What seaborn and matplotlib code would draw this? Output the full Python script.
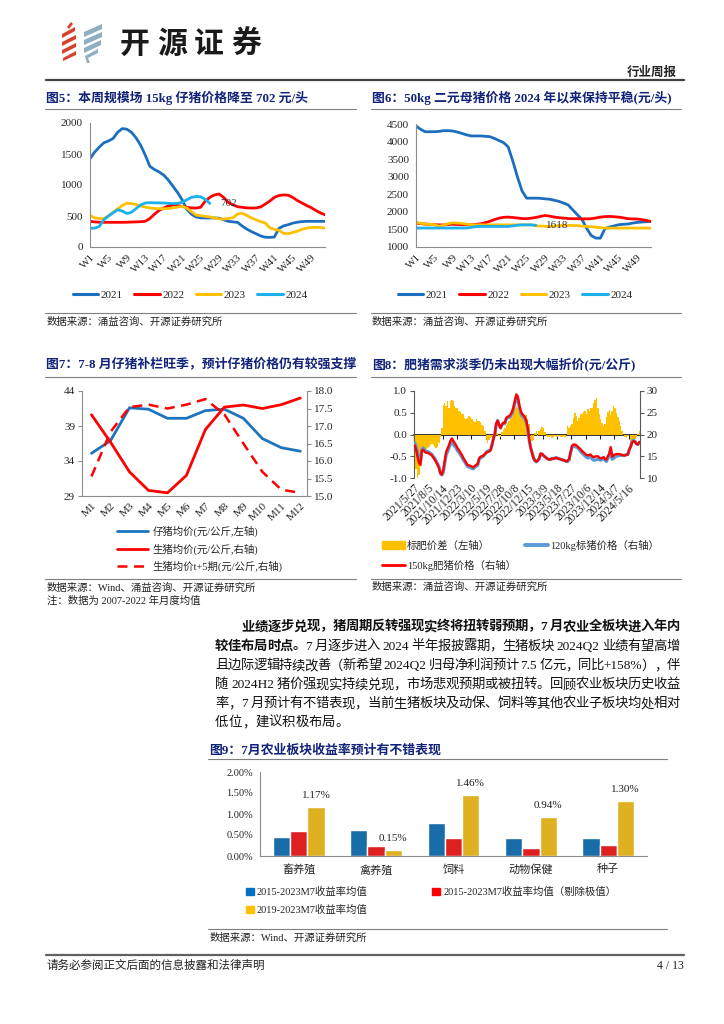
import numpy as np
import pandas as pd
import matplotlib
matplotlib.use('Agg')
import matplotlib.pyplot as plt
import seaborn as sns
from matplotlib.lines import Line2D
from matplotlib.patches import Patch, Polygon

# ---------------- data ----------------
week_labels = ['W%d' % i for i in range(1, 53)]
years = ['2021', '2022', '2023', '2024']
year_colors = ['#1C6FBF', '#FF0000', '#FFC000', '#1CB0EC']

# fig5: 15kg piglet price (yuan/head)
piglet_2021 = [1425, 1530, 1610, 1680, 1710, 1750, 1850, 1910, 1900, 1850,
               1760, 1640, 1480, 1300, 1250, 1210, 1160, 1080, 980, 880,
               760, 610, 530, 485, 470, 468, 468, 468, 465, 440,
               415, 405, 398, 340, 290, 250, 215, 180, 158, 155,
               160, 300, 340, 360, 385, 400, 410, 414, 414, 414, 414, 414]
piglet_2022 = [415, 405, 400, 398, 398, 398, 398, 398, 400, 402,
               405, 408, 415, 460, 530, 590, 630, 660, 680, 670,
               655, 640, 630, 628, 640, 740, 800, 840, 855, 800,
               720, 680, 650, 640, 632, 628, 630, 645, 690, 740,
               800, 830, 840, 835, 800, 750, 710, 670, 635, 590, 550, 520]
piglet_2023 = [510, 470, 460, 458, 500, 560, 615, 670, 705, 700,
               685, 660, 645, 630, 620, 618, 618, 620, 630, 645,
               655, 630, 570, 515, 505, 495, 485, 470, 455, 450,
               460, 470, 530, 545, 510, 470, 440, 410, 390, 310,
               285, 270, 220, 215, 235, 255, 285, 305, 315, 317, 315, 305]
piglet_2024 = [300, 305, 330, 440, 500, 550, 600, 580, 540, 560,
               620, 680, 710, 715, 712, 712, 710, 705, 700, 705,
               720, 760, 800, 815, 810, 770, 702]

# fig6: 50kg sow price (yuan/head)
sow_2021 = [4440, 4350, 4280, 4280, 4280, 4290, 4310, 4310, 4300, 4270,
            4230, 4190, 4160, 4160, 4160, 4150, 4140, 4090, 4030, 3970,
            3850, 3450, 3000, 2600, 2390, 2390, 2390, 2385, 2370, 2360,
            2330, 2300, 2250, 2200, 2060, 1920, 1790, 1540, 1330, 1255,
            1250, 1520, 1570, 1600, 1635, 1645, 1655, 1680, 1700, 1710, 1720, 1728]
sow_2022 = [1680, 1665, 1652, 1645, 1635, 1630, 1625, 1640, 1650, 1640,
            1635, 1635, 1635, 1645, 1660, 1690, 1730, 1780, 1820, 1845,
            1850, 1840, 1825, 1810, 1805, 1820, 1840, 1870, 1895, 1880,
            1850, 1835, 1823, 1810, 1805, 1805, 1800, 1800, 1805, 1825,
            1850, 1865, 1870, 1860, 1850, 1830, 1805, 1800, 1795, 1780, 1757, 1725]
sow_2023 = [1700, 1675, 1655, 1645, 1635, 1590, 1620, 1665, 1690, 1680,
            1670, 1650, 1635, 1630, 1630, 1630, 1630, 1630, 1630, 1630,
            1630, 1630, 1630, 1630, 1630, 1630, 1605, 1595, 1590, 1585,
            1595, 1610, 1615, 1615, 1612, 1608, 1595, 1585, 1575, 1565,
            1550, 1540, 1538, 1538, 1538, 1538, 1538, 1538, 1538, 1538, 1538, 1538]
sow_2024 = [1540, 1540, 1540, 1540, 1540, 1540, 1540, 1540, 1540, 1540,
            1540, 1540, 1560, 1580, 1585, 1585, 1585, 1585, 1585, 1585,
            1585, 1600, 1620, 1630, 1630, 1630, 1618]

# fig7: monthly averages 2007-2022
month_labels = ['M%d' % i for i in range(1, 13)]
piglet_avg = [35.1, 36.9, 41.6, 41.4, 40.1, 40.1, 41.2, 41.4, 40.1, 37.2, 35.9, 35.4]
hog_avg = [17.32, 16.54, 15.69, 15.16, 15.09, 15.59, 16.90, 17.54, 17.60, 17.50, 17.61, 17.80]
hog_avg_t5 = [15.56, 16.83, 17.54, 17.61, 17.50, 17.61, 17.77, 17.33, 16.50, 15.69, 15.18, 15.09]

# fig8: weekly fat / standard hog prices
date_labels = ['2021/5/27', '2021/8/5', '2021/10/14', '2021/12/23', '2022/3/10',
               '2022/5/19', '2022/7/28', '2022/10/8', '2022/12/15', '2023/3/9',
               '2023/5/18', '2023/7/27', '2023/10/6', '2023/12/14', '2024/3/7', '2024/5/16']
fat_150 = [17.5, 16.5, 14.8, 13.5, 13.0, 16.3, 16.5, 16.0, 15.8, 15.8,
           15.6, 15.4, 15.2, 14.7, 14.2, 13.6, 13.0, 12.3, 11.0, 10.8,
           12.0, 14.0, 16.0, 16.8, 17.6, 18.6, 19.1, 18.5, 18.0, 17.5,
           16.8, 16.4, 15.8, 15.3, 14.6, 14.1, 13.5, 13.0, 12.9, 12.8,
           12.6, 12.4, 12.8, 13.0, 13.2, 14.5, 14.9, 15.0, 15.2, 15.5,
           15.8, 16.0, 16.1, 16.4, 17.5, 19.0, 20.2, 22.5, 23.2, 22.2,
           21.5, 22.3, 22.7, 22.7, 23.8, 24.1, 24.2, 24.6, 25.2, 26.3,
           27.8, 29.2, 28.8, 27.0, 25.5, 24.8, 24.4, 24.0, 23.2, 21.6,
           19.0, 17.0, 15.8, 14.6, 14.0, 13.8, 14.0, 14.5, 15.6, 15.6,
           15.2, 14.9, 14.6, 14.4, 14.2, 14.3, 14.5, 14.4, 14.6, 14.6,
           14.5, 14.4, 14.3, 14.2, 14.1, 14.0, 13.8, 14.0, 14.4, 16.0,
           17.4, 17.7, 17.7, 17.5, 17.2, 16.9, 16.6, 16.2, 15.9, 15.6,
           15.3, 15.2, 15.3, 15.4, 15.0, 14.8, 14.9, 15.0, 15.0, 14.7,
           14.5, 14.6, 14.8, 14.4, 14.2, 15.0, 15.6, 17.1, 14.9, 15.2,
           15.4, 15.5, 15.5, 15.5, 15.4, 15.3, 15.2, 15.2, 15.3, 15.4,
           16.5, 17.2, 18.2, 18.5, 18.3, 17.8, 17.7, 18.3]
std_120 = [18.1, 17.3, 15.8, 14.4, 13.7, 16.6, 16.9, 16.4, 16.1, 16.1,
           15.9, 15.7, 15.4, 14.9, 14.5, 13.9, 13.3, 12.5, 11.1, 10.7,
           11.3, 13.3, 15.4, 16.0, 17.0, 17.8, 18.3, 17.7, 17.3, 16.9,
           16.2, 15.9, 15.3, 14.8, 14.1, 13.7, 13.1, 12.6, 12.5, 12.4,
           12.2, 12.1, 12.5, 12.7, 12.9, 14.2, 14.6, 14.8, 15.0, 15.4,
           15.9, 16.2, 16.2, 16.5, 17.6, 19.0, 20.1, 22.4, 23.2, 22.2,
           21.5, 22.2, 22.6, 22.5, 23.6, 23.8, 23.9, 24.2, 24.8, 25.8,
           27.2, 28.5, 28.2, 26.5, 25.0, 24.3, 24.0, 23.6, 22.8, 21.2,
           18.8, 17.0, 15.9, 14.7, 14.0, 13.7, 14.0, 14.4, 15.5, 15.4,
           15.1, 14.9, 14.6, 14.4, 14.3, 14.3, 14.5, 14.4, 14.6, 14.7,
           14.5, 14.4, 14.3, 14.2, 14.1, 14.0, 13.8, 13.8, 14.2, 15.8,
           17.1, 17.3, 17.2, 17.1, 16.9, 16.5, 16.1, 15.7, 15.4, 15.1,
           14.8, 14.6, 14.7, 14.8, 14.4, 14.1, 14.1, 14.2, 14.4, 14.2,
           14.1, 14.3, 14.6, 14.1, 13.8, 14.5, 15.0, 16.6, 14.3, 14.5,
           14.8, 15.0, 15.1, 15.2, 15.2, 15.2, 15.2, 15.2, 15.4, 15.4,
           16.5, 17.3, 18.5, 18.7, 18.4, 17.9, 17.7, 18.2]
fat_spread = [-0.65, -0.80, -1.00, -0.92, -0.70, -0.35, -0.38, -0.40, -0.33, -0.30,
              -0.28, -0.25, -0.22, -0.23, -0.28, -0.30, -0.28, -0.20, -0.05, 0.15,
              0.68, 0.72, 0.65, 0.76, 0.62, 0.78, 0.80, 0.78, 0.66, 0.62,
              0.60, 0.55, 0.52, 0.46, 0.47, 0.38, 0.36, 0.39, 0.42, 0.40,
              0.36, 0.31, 0.28, 0.35, 0.30, 0.30, 0.28, 0.22, 0.19, 0.08,
              -0.10, -0.19, -0.12, -0.08, -0.05, 0.02, 0.05, 0.08, 0.03, -0.04,
              -0.05, 0.05, 0.10, 0.15, 0.22, 0.26, 0.30, 0.36, 0.43, 0.52,
              0.60, 0.65, 0.60, 0.55, 0.50, 0.45, 0.43, 0.45, 0.45, 0.35,
              0.23, 0.00, -0.15, -0.12, 0.04, 0.08, -0.03, 0.08, 0.12, 0.17,
              0.15, 0.05, -0.04, -0.05, -0.06, -0.04, -0.07, -0.05, -0.03, -0.06,
              -0.05, -0.04, -0.06, -0.05, -0.03, -0.05, -0.02, 0.19, 0.15, 0.20,
              0.25, 0.38, 0.50, 0.42, 0.30, 0.38, 0.46, 0.48, 0.52, 0.54,
              0.46, 0.58, 0.55, 0.62, 0.62, 0.72, 0.80, 0.83, 0.60, 0.46,
              0.35, 0.27, 0.20, 0.25, 0.40, 0.52, 0.56, 0.45, 0.55, 0.66,
              0.62, 0.50, 0.40, 0.30, 0.19, 0.08, 0.00, -0.05, -0.08, -0.04,
              -0.02, -0.15, -0.27, -0.18, -0.10, -0.05, 0.02, 0.08]

# fig9: July returns of agriculture sub-sectors (%)
sectors = ['畜养殖', '禽养殖', '饲料', '动物保健', '种子']
series9 = ['2015-2023M7收益率均值', '2015-2023M7收益率均值（剔除极值）', '2019-2023M7收益率均值']
ret_all = [0.45, 0.62, 0.79, 0.44, 0.44]
ret_trim = [0.59, 0.23, 0.43, 0.19, 0.26]
ret_recent = [1.17, 0.15, 1.46, 0.94, 1.30]
colors9 = ['#0070C0', '#FF0000', '#FFC000']

# ---------------- page setup ----------------
sns.set_style('white')
plt.rcParams['font.family'] = ['Liberation Serif', 'Noto Sans CJK SC']
plt.rcParams['axes.unicode_minus'] = False

W, H = 724, 1024
fig = plt.figure(figsize=(W / 100, H / 100), dpi=100)
renderer = fig.canvas.get_renderer()

NAVY = '#12237A'
AXC = '#8C8C8C'
TICK = 8


def fx(x):
    return x / W


def fy(y):
    return 1 - y / H


def add_ax(x0, y0, x1, y1):
    return fig.add_axes([fx(x0), fy(y1), (x1 - x0) / W, (y1 - y0) / H])


def ftext(x, y, s, **kw):
    kw.setdefault('va', 'center')
    return fig.text(fx(x), fy(y), s, **kw)


def hline(x0, x1, y, lw=0.8, color='#7F7F7F'):
    fig.add_artist(Line2D([fx(x0), fx(x1)], [fy(y), fy(y)],
                          transform=fig.transFigure, lw=lw, color=color))


def style_ax(ax):
    for s in ['top', 'right']:
        ax.spines[s].set_visible(False)
    for s in ['left', 'bottom']:
        ax.spines[s].set_color(AXC)
        ax.spines[s].set_linewidth(0.8)
    ax.tick_params(labelsize=TICK, length=3, color=AXC, width=0.8, pad=2)
    ax.set_xlabel('')
    ax.set_ylabel('')


def tokenize(s):
    out, run = [], ''
    for ch in s:
        if ord(ch) < 128 and ch != ' ':
            run += ch
            continue
        if run:
            out.append(run)
            run = ''
        out.append(ch)
    if run:
        out.append(run)
    return out


def para_line(parts, x0, x1, y, justify=True, size=9.6):
    objs, widths = [], []
    for s, wgt in parts:
        for tok in tokenize(s):
            t = ftext(x0, y, tok, fontsize=size, weight=wgt, ha='left', color='#111111')
            if tok == ' ':
                w = 0.25 * size * 100 / 72
            else:
                w = t.get_window_extent(renderer).width
            objs.append(t)
            widths.append(w)
    gap = (x1 - x0 - sum(widths)) / (len(objs) - 1) if justify else 0.0
    x = x0
    for t, w in zip(objs, widths):
        t.set_x(fx(x))
        x += w + gap


# ---------------- header ----------------
red_bands = [[(62, 34), (75, 27), (75, 31), (62, 38)],
             [(62, 42), (76, 35), (76, 39), (62, 46)],
             [(62, 50), (76, 43), (76, 47), (62, 54)],
             [(63, 58), (76, 51), (76, 55), (63, 61)],
             [(67, 27), (71, 22), (73, 24), (69, 29)]]
for pts in red_bands:
    fig.add_artist(Polygon([(fx(a), fy(b)) for a, b in pts], closed=True,
                           transform=fig.transFigure, color='#D9412E', lw=0))
grey_bands = [[(84, 32), (102, 24), (102, 29), (84, 37)],
              [(84, 40), (102, 32), (102, 37), (84, 45)],
              [(84, 48), (101, 40), (101, 45), (84, 53)],
              [(85, 56), (98, 49), (98, 53), (88, 58), (90, 63), (87, 63)]]
for pts in grey_bands:
    fig.add_artist(Polygon([(fx(a), fy(b)) for a, b in pts], closed=True,
                           transform=fig.transFigure, color='#8EAEC2', lw=0))
for k, ch in enumerate('开源证券'):
    ftext(135 + 37 * k, 44, ch, fontsize=21.5, weight='bold', ha='center',
          family=['Noto Sans CJK SC'], color='#1A1A1A')
ftext(677, 73, '行业周报', fontsize=9, weight='bold', ha='right')
hline(46, 684, 80, lw=1.6, color='#404040')

# ---------------- figure 5 ----------------
ftext(46, 97.5, '图5：本周规模场 15kg 仔猪价格降至 702 元/头', fontsize=9.3, weight='bold', color=NAVY)
hline(45, 356, 109)
piglet = pd.concat([pd.DataFrame({'week': np.arange(1, len(v) + 1), 'price': v, 'year': y})
                    for y, v in zip(years, [piglet_2021, piglet_2022, piglet_2023, piglet_2024])])
ax5 = add_ax(90, 123, 325, 247)
sns.lineplot(data=piglet, x='week', y='price', hue='year', palette=year_colors,
             lw=2, legend=False, ax=ax5)
ax5.set_xlim(1, 52)
ax5.set_ylim(0, 2000)
ax5.set_yticks(range(0, 2001, 500))
ax5.set_xticks(range(1, 53, 4))
ax5.set_xticklabels(week_labels[::4], rotation=45, ha='right', rotation_mode='anchor')
style_ax(ax5)
ax5.tick_params(axis='x', length=0, pad=4)
ax5.text(29.3, piglet_2024[-1], '702', fontsize=8, va='center', ha='left', color='#333333')
handles5 = [Line2D([], [], color=c, lw=2.2) for c in year_colors]
ax5.legend(handles5, years, loc='center', bbox_to_anchor=(fx(190), fy(295)),
           bbox_transform=fig.transFigure, ncol=4, frameon=False, fontsize=TICK,
           handlelength=2.3, handletextpad=0.25, columnspacing=1.0, borderpad=0)
hline(45, 356, 313)
ftext(47, 322, '数据来源：涌益咨询、开源证券研究所', fontsize=7.5, color='#222222')

# ---------------- figure 6 ----------------
ftext(372, 97.5, '图6：50kg 二元母猪价格 2024 年以来保持平稳(元/头)', fontsize=9.3, weight='bold', color=NAVY)
hline(371, 681, 109)
sow = pd.concat([pd.DataFrame({'week': np.arange(1, len(v) + 1), 'price': v, 'year': y})
                 for y, v in zip(years, [sow_2021, sow_2022, sow_2023, sow_2024])])
ax6 = add_ax(416, 124, 651, 247)
sns.lineplot(data=sow, x='week', y='price', hue='year', palette=year_colors,
             lw=2, legend=False, ax=ax6)
ax6.set_xlim(1, 52)
ax6.set_ylim(1000, 4500)
ax6.set_yticks(range(1000, 4501, 500))
ax6.set_xticks(range(1, 53, 4))
ax6.set_xticklabels(week_labels[::4], rotation=45, ha='right', rotation_mode='anchor')
style_ax(ax6)
ax6.tick_params(axis='x', length=0, pad=4)
ax6.text(29.3, sow_2024[-1], '1618', fontsize=8, va='center', ha='left', color='#333333')
ax6.legend(handles5, years, loc='center', bbox_to_anchor=(fx(515), fy(295)),
           bbox_transform=fig.transFigure, ncol=4, frameon=False, fontsize=TICK,
           handlelength=2.3, handletextpad=0.25, columnspacing=1.0, borderpad=0)
hline(371, 681, 313)
ftext(372, 322, '数据来源：涌益咨询、开源证券研究所', fontsize=7.5, color='#222222')

# ---------------- figure 7 ----------------
ftext(46, 363.5, '图7：7-8 月仔猪补栏旺季，预计仔猪价格仍有较强支撑', fontsize=9.3, weight='bold', color=NAVY)
hline(45, 356, 377)
months = np.arange(1, 13)
ax7 = add_ax(82, 391, 307, 496)
sns.lineplot(x=months, y=piglet_avg, color='#1C75BC', lw=2, ax=ax7)
ax7.set_xlim(0.5, 12.35)
ax7.set_ylim(29, 44)
ax7.set_yticks([29, 34, 39, 44])
ax7.set_xticks(months)
ax7.set_xticklabels(month_labels, rotation=45, ha='right', rotation_mode='anchor')
style_ax(ax7)
ax7.tick_params(axis='x', length=0, pad=4)
ax7b = ax7.twinx()
sns.lineplot(x=months, y=hog_avg, color='#FF0000', lw=2, ax=ax7b)
sns.lineplot(x=months, y=hog_avg_t5, color='#FF0000', lw=1.8, ax=ax7b)
ax7b.lines[-1].set_linestyle((0, (4, 2.6)))
ax7b.set_ylim(15, 18)
ax7b.set_yticks(np.arange(15, 18.01, 0.5))
ax7b.set_yticklabels(['%.1f' % v for v in np.arange(15, 18.01, 0.5)])
for s in ['top', 'left', 'bottom']:
    ax7b.spines[s].set_visible(False)
ax7b.spines['right'].set_color(AXC)
ax7b.spines['right'].set_linewidth(0.8)
ax7b.tick_params(labelsize=TICK, length=3, color=AXC, width=0.8, pad=2)
ax7b.set_ylabel('')
handles7 = [Line2D([], [], color='#1C75BC', lw=2),
            Line2D([], [], color='#FF0000', lw=2),
            Line2D([], [], color='#FF0000', lw=1.8, ls=(0, (4, 2.6)))]
labels7 = ['仔猪均价(元/公斤,左轴)', '生猪均价(元/公斤,右轴)', '生猪均价t+5期(元/公斤,右轴)']
ax7.legend(handles7, labels7, loc='center left', bbox_to_anchor=(fx(116.5), fy(549)),
           bbox_transform=fig.transFigure, ncol=1, frameon=False, fontsize=7.5,
           handlelength=3.0, handletextpad=0.45, labelspacing=0.6, borderpad=0, borderaxespad=0)
hline(45, 356, 579)
ftext(47, 588, '数据来源：Wind、涌益咨询、开源证券研究所', fontsize=7.5, color='#222222')
ftext(47, 601, '注：数据为 2007-2022 年月度均值', fontsize=7.5, color='#222222')

# ---------------- figure 8 ----------------
ftext(372, 364.5, '图8：肥猪需求淡季仍未出现大幅折价(元/公斤)', fontsize=9.3, weight='bold', color=NAVY)
hline(371, 681, 377)
idx = np.arange(len(fat_150))
ax8 = add_ax(414, 391, 640, 478)
ax8.bar(idx, fat_spread, width=1.0, color='#FFC000', lw=0)
ax8.set_xlim(-0.5, len(idx) - 0.5)
ax8.set_ylim(-1, 1)
ax8.set_yticks([-1, -0.5, 0, 0.5, 1])
ax8.set_yticklabels(['%.1f' % v for v in [-1, -0.5, 0, 0.5, 1]])
tick_pos = np.arange(len(date_labels)) * 10 - 0.5
ax8.set_xticks(tick_pos)
ax8.set_xticklabels(date_labels, rotation=45, ha='right', rotation_mode='anchor')
for s in ['top', 'right', 'bottom']:
    ax8.spines[s].set_visible(False)
ax8.spines['left'].set_color('#595959')
ax8.spines['left'].set_linewidth(0.8)
ax8.tick_params(axis='y', labelsize=TICK, length=3, color='#595959', width=0.8, pad=2)
ax8.tick_params(axis='x', labelsize=8.3, length=0, pad=3)
sec = ax8.secondary_xaxis(0.5)
sec.set_alignment('bottom')
sec.set_xticks(tick_pos)
sec.tick_params(axis='x', length=3, width=0.8, color='#222222', labelbottom=False, labeltop=False)
sec.spines['bottom'].set_color('#111111')
sec.spines['bottom'].set_linewidth(1.2)
ax8b = ax8.twinx()
sns.lineplot(x=idx, y=std_120, color='#5B9BD5', lw=2.3, ax=ax8b)
sns.lineplot(x=idx, y=fat_150, color='#FF0000', lw=1.7, ax=ax8b)
ax8b.set_ylim(10, 30)
ax8b.set_yticks([10, 15, 20, 25, 30])
for s in ['top', 'left', 'bottom']:
    ax8b.spines[s].set_visible(False)
ax8b.spines['right'].set_color('#595959')
ax8b.spines['right'].set_linewidth(0.8)
ax8b.tick_params(labelsize=TICK, length=3, color='#595959', width=0.8, pad=2)
ax8b.set_ylabel('')
handles8 = [Patch(color='#FFC000'), Line2D([], [], color='#FF0000', lw=2),
            Line2D([], [], color='#5B9BD5', lw=2.8)]
labels8 = ['标肥价差（左轴）', '150kg肥猪价格（右轴）', '120kg标猪价格（右轴）']
ax8.legend(handles8, labels8, loc='upper left', bbox_to_anchor=(fx(382), fy(540)),
           bbox_transform=fig.transFigure, ncol=2, frameon=False, fontsize=7.5,
           handlelength=2.2, handleheight=0.8, handletextpad=0.2, labelspacing=0.85,
           columnspacing=0.9, borderpad=0, borderaxespad=0)
hline(371, 681, 579)
ftext(372, 587, '数据来源：涌益咨询、开源证券研究所', fontsize=7.5, color='#222222')

# ---------------- paragraph ----------------
x_left, x_right = 215, 680
para_line([('业绩逐步兑现，猪周期反转强现实终将扭转弱预期，7 月农业全板块进入年内', 'bold')],
          241.7, x_right, 627)
para_line([('较佳布局时点。', 'bold'),
           ('7 月逐步进入 2024 半年报披露期，生猪板块 2024Q2 业绩有望高增', 'normal')],
          x_left, x_right, 646.5)
para_line([('且边际逻辑持续改善（新希望 2024Q2 归母净利润预计 7.5 亿元，同比+158%），伴', 'normal')],
          x_left, x_right, 666)
para_line([('随 2024H2 猪价强现实持续兑现，市场悲观预期或被扭转。回顾农业板块历史收益', 'normal')],
          x_left, x_right, 685)
para_line([('率，7 月预计有不错表现，当前生猪板块及动保、饲料等其他农业子板块均处相对', 'normal')],
          x_left, x_right, 704)
para_line([('低位，建议积极布局。', 'normal')], x_left, x_right, 723, justify=False)

# ---------------- figure 9 ----------------
ftext(209, 750, '图9：7月农业板块收益率预计有不错表现', fontsize=9.3, weight='bold', color=NAVY)
hline(208, 667, 758.5)
df9 = pd.concat([pd.DataFrame({'sector': sectors, 'ret': v, 'series': s})
                 for s, v in zip(series9, [ret_all, ret_trim, ret_recent])])
ax9 = add_ax(260, 772, 647, 856)
sns.barplot(data=df9, x='sector', y='ret', hue='series', palette=colors9,
            width=0.67, gap=0, legend=False, ax=ax9)
ax9.set_xlim(-0.5, 4.5)
ax9.set_ylim(0, 2)
ax9.set_yticks([0, 0.5, 1.0, 1.5, 2.0])
ax9.set_yticklabels(['%.2f%%' % v for v in [0, 0.5, 1.0, 1.5, 2.0]])
style_ax(ax9)
ax9.tick_params(axis='y', labelsize=7.5)
ax9.set_xticks(np.arange(0.5, 4, 1), minor=True)
ax9.tick_params(axis='x', which='major', length=0, labelsize=8, pad=6)
ax9.tick_params(axis='x', which='minor', length=4, color=AXC, width=0.8)
ax9.bar_label(ax9.containers[2], labels=['%.2f%%' % v for v in ret_recent],
              padding=5, fontsize=8, color='#222222')
handles9 = [Patch(color=colors9[0]), Patch(color=colors9[2]), Patch(color=colors9[1])]
labels9 = [series9[0], series9[2], series9[1]]
ax9.legend(handles9, labels9, loc='upper left', bbox_to_anchor=(fx(246), fy(887)),
           bbox_transform=fig.transFigure, ncol=2, frameon=False, fontsize=7.5,
           handlelength=0.75, handleheight=0.75, handletextpad=0.3, labelspacing=0.75,
           columnspacing=6.2, borderpad=0, borderaxespad=0)
hline(208, 667, 928.5)
ftext(210, 937.5, '数据来源：Wind、开源证券研究所', fontsize=7.5, color='#222222')

# ---------------- footer ----------------
hline(46, 684, 955, lw=1.6, color='#606060')
ftext(46, 966, '请务必参阅正文后面的信息披露和法律声明', fontsize=8.3, color='#222222')
ftext(684, 966, '4 / 13', fontsize=8.5, ha='right', color='#222222')

fig.savefig('out.png', dpi=100)
